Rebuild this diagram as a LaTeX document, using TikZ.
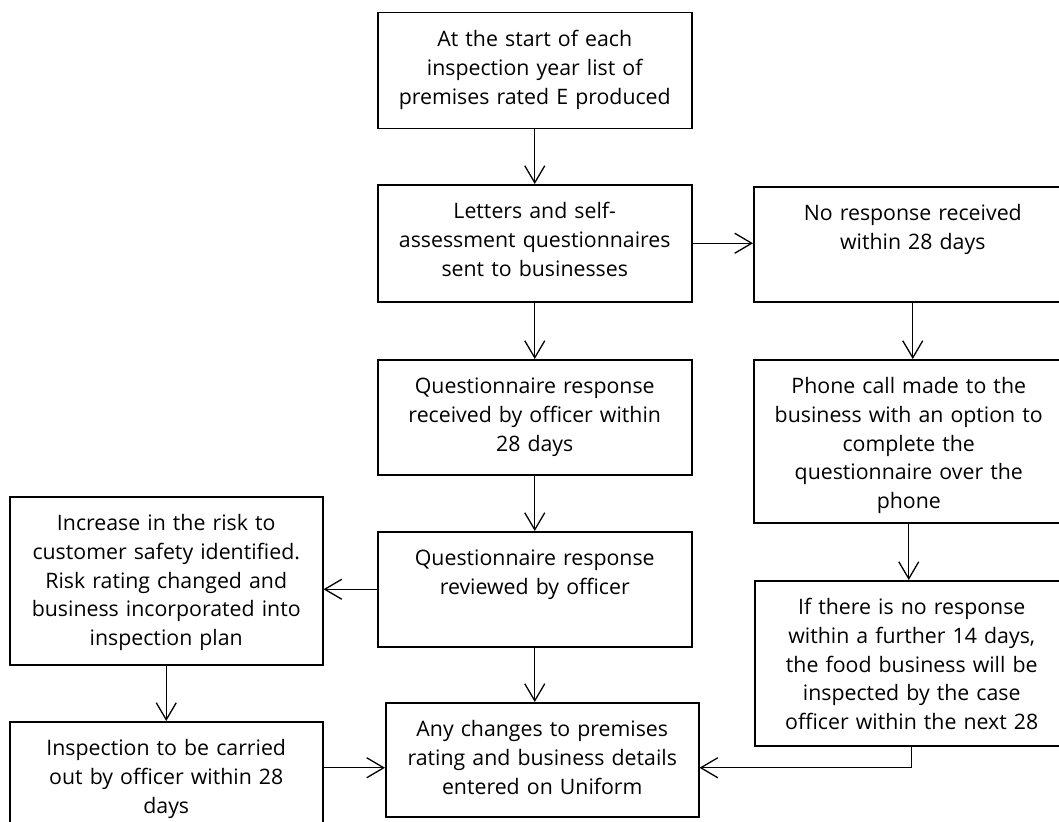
\documentclass[tikz,border=0pt]{standalone}
\usepackage{fontspec}
\setmainfont{Open Sans}
\usetikzlibrary{arrows.meta}

\tikzset{
	flow/.style 2 args={draw, line width=1.5pt, anchor=north west, inner sep=0pt,
		text width=#1pt, align=center, text height=33.5pt, text depth=#2pt,
		font=\fontsize{21.3}{28.9}\selectfont},
	arr/.style={-{Straight Barb[length=17pt, width=20pt]}, line width=1.3pt}
}

\begin{document}
\begin{tikzpicture}[x=1pt, y=-1pt]
		\useasboundingbox (0,0) rectangle (1059,821);
		\node[flow={314}{82.5}] (start) at (377,12) {At the start of each\\ inspection year list of\\ premises rated E produced};
		\node[flow={314}{83.5}] (letters) at (377,184) {Letters and self-\\ assessment questionnaires\\ sent to businesses};
		\node[flow={318}{81.5}] (noreply) at (753,186) {No response received\\ within 28 days};
		\node[flow={314}{81.5}] (received) at (377,359) {Questionnaire response\\ received by officer within\\ 28 days};
		\node[flow={310}{129.5}] (phone) at (753,359) {Phone call made to the\\ business with an option to\\ complete the\\ questionnaire over the\\ phone};
		\node[flow={314}{81.5}] (reviewed) at (377,531) {Questionnaire response\\ reviewed by officer};
		\node[flow={313}{134.5}] (risk) at (9,496) {Increase in the risk to\\ customer safety identified.\\ Risk rating changed and\\ business incorporated into\\ inspection plan};
		\node[flow={313}{82.5}] (inspect) at (9,721) {Inspection to be carried\\ out by officer within 28\\ days};
		\node[flow={313}{80.5}] (uniform) at (385,702) {Any changes to premises\\ rating and business details\\ entered on Uniform};
		\node[flow={314}{131.5}] (further) at (754,580) {If there is no response\\ within a further 14 days,\\ the food business will be\\ inspected by the case\\ officer within the next 28};
		\coordinate (uniL) at ([yshift=-8pt]uniform.west);
		\coordinate (uniR) at ([yshift=-8pt]uniform.east);
		\draw[arr] (start) -- (letters);
		\draw[arr] (letters.east) -- (letters.east -| noreply.west);
		\draw[arr] (letters) -- (received);
		\draw[arr] (received) -- (reviewed);
		\draw[arr] (noreply.south) -- (noreply.south |- phone.north);
		\draw[arr] (phone.south) -- (phone.south |- further.north);
		\draw[arr] (reviewed.west) -- (reviewed.west -| risk.east);
		\draw[arr] (risk) -- (inspect);
		\draw[arr] (reviewed.south) -- (reviewed.south |- uniform.north);
		\draw[arr] (inspect.east |- uniL) -- (uniL);
		\draw[arr] (further.south) |- (uniR);
	\end{tikzpicture}
\end{document}
